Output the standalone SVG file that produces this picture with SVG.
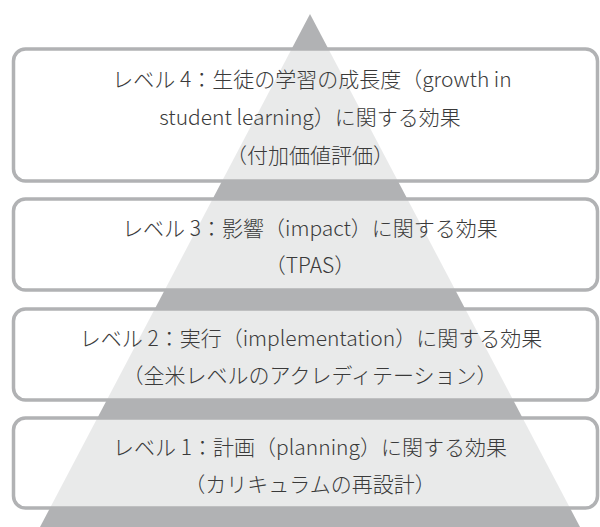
<svg xmlns="http://www.w3.org/2000/svg" width="600" height="527" viewBox="0 0 600 527">
<style>
.box{fill:#ffffff;fill-opacity:0.72;stroke:#b1b2b4;stroke-width:3.5}
.t{font-family:"Noto Sans CJK JP","Noto Sans",sans-serif;font-size:21px;font-weight:300;fill:#3a3a3a;text-anchor:middle}
</style>
<rect width="600" height="527" fill="#ffffff"/>
<polygon id="pyramid" points="310,14 580,527 40,527" fill="#b1b2b4"/>
<g id="level4">
<rect class="box" x="13.5" y="49" width="584" height="132" rx="12"/>
<text class="t" x="312" y="87">レベル 4：生徒の学習の成長度（growth in</text>
<text class="t" x="310" y="125">student learning）に関する効果</text>
<text class="t" x="310" y="163">（付加価値評価）</text>
</g>
<g id="level3">
<rect class="box" x="13.5" y="199" width="584" height="91" rx="12"/>
<text class="t" x="310" y="236">レベル 3：影響（impact）に関する効果</text>
<text class="t" x="310" y="273">（TPAS）</text>
</g>
<g id="level2">
<rect class="box" x="13.5" y="309" width="584" height="91" rx="12"/>
<text class="t" x="311" y="346">レベル 2：実行（implementation）に関する効果</text>
<text class="t" x="310" y="383">（全米レベルのアクレディテーション）</text>
</g>
<g id="level1">
<rect class="box" x="13.5" y="418" width="584" height="90" rx="12"/>
<text class="t" x="310" y="455">レベル 1：計画（planning）に関する効果</text>
<text class="t" x="310" y="492">（カリキュラムの再設計）</text>
</g>
<g id="connectors"></g>
</svg>
